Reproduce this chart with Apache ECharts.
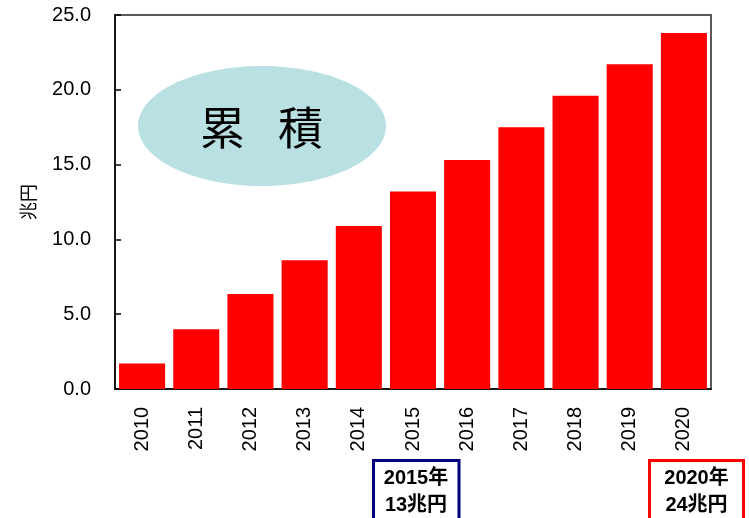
<!DOCTYPE html>
<html>
<head>
<meta charset="utf-8">
<script src="https://cdn.jsdelivr.net/npm/echarts@6/dist/echarts.min.js"></script>
<style>
  html, body { margin: 0; padding: 0; background: #fff; }
  #chart { width: 749px; height: 518px; }
</style>
</head>
<body>
<div id="chart"></div>
<script>
// Cumulative amount per year (兆円)
const years = ['2010', '2011', '2012', '2013', '2014', '2015', '2016', '2017', '2018', '2019', '2020'];
const cumulative = [1.7, 4.0, 6.35, 8.6, 10.9, 13.2, 15.3, 17.5, 19.6, 21.7, 23.8];
const yTicks = [0, 5, 10, 15, 20, 25];

const FONT = "'Liberation Sans', Arial, 'Noto Sans CJK JP', sans-serif";
const CJK = "'Noto Sans CJK JP', sans-serif";

const chart = echarts.init(document.getElementById('chart'));

const option = {
  animation: false,
  textStyle: { fontFamily: FONT },
  grid: {
    left: 115,
    right: 38,
    top: 15,
    bottom: 129,
    show: true,
    borderColor: '#595959',
    borderWidth: 2,
  },
  xAxis: {
    type: 'category',
    data: years,
    axisLine: { lineStyle: { color: '#000', width: 1.5 } },
    axisTick: { inside: true, length: 5, lineStyle: { color: '#555', width: 1.5 } },
    axisLabel: {
      rotate: 90,
      margin: 18,
      fontSize: 20,
      color: '#000',
      fontFamily: FONT,
    },
  },
  yAxis: {
    type: 'value',
    min: yTicks[0],
    max: yTicks[yTicks.length - 1],
    interval: 5,
    name: '兆円',
    nameLocation: 'middle',
    nameRotate: 90,
    nameGap: 76,
    nameTextStyle: { fontSize: 18, color: '#000', fontFamily: FONT },
    axisLine: { show: true, lineStyle: { color: '#000', width: 1.5 } },
    axisTick: { show: true, inside: true, length: 6, lineStyle: { color: '#000', width: 1.5 } },
    splitLine: { show: false },
    axisLabel: {
      margin: 24,
      fontSize: 20,
      color: '#000',
      fontFamily: FONT,
      formatter: (v) => v.toFixed(1),
    },
  },
  series: [
    {
      type: 'bar',
      data: cumulative,
      barCategoryGap: '15%',
      itemStyle: { color: '#ff0000' },
      z: 3,
    },
  ],
  graphic: [
    {
      type: 'ellipse',
      shape: { cx: 262, cy: 126, rx: 124, ry: 60 },
      style: { fill: '#b9e0e3' },
      z: 1,
    },
    {
      type: 'text',
      x: 222.5,
      y: 128,
      style: {
        text: '累',
        fontSize: 45,
        fill: '#000',
        fontFamily: CJK,
        align: 'center',
        verticalAlign: 'middle',
      },
      z: 2,
    },
    {
      type: 'text',
      x: 300.5,
      y: 128,
      style: {
        text: '積',
        fontSize: 45,
        fill: '#000',
        fontFamily: CJK,
        align: 'center',
        verticalAlign: 'middle',
      },
      z: 2,
    },
    {
      type: 'rect',
      shape: { x: 373.5, y: 460.5, width: 85.5, height: 70 },
      style: { fill: '#fff', stroke: '#000080', lineWidth: 3 },
      z: 5,
    },
    {
      type: 'text',
      x: 416,
      y: 492,
      style: {
        text: '2015年\n13兆円',
        fontSize: 20,
        fontWeight: 'bold',
        lineHeight: 27,
        fill: '#000',
        fontFamily: FONT,
        align: 'center',
        verticalAlign: 'middle',
      },
      z: 6,
    },
    {
      type: 'rect',
      shape: { x: 649.5, y: 460.5, width: 94, height: 70 },
      style: { fill: '#fff', stroke: '#ff0000', lineWidth: 3 },
      z: 5,
    },
    {
      type: 'text',
      x: 696.5,
      y: 492,
      style: {
        text: '2020年\n24兆円',
        fontSize: 20,
        fontWeight: 'bold',
        lineHeight: 27,
        fill: '#000',
        fontFamily: FONT,
        align: 'center',
        verticalAlign: 'middle',
      },
      z: 6,
    },
  ],
};

chart.setOption(option);
</script>
</body>
</html>
